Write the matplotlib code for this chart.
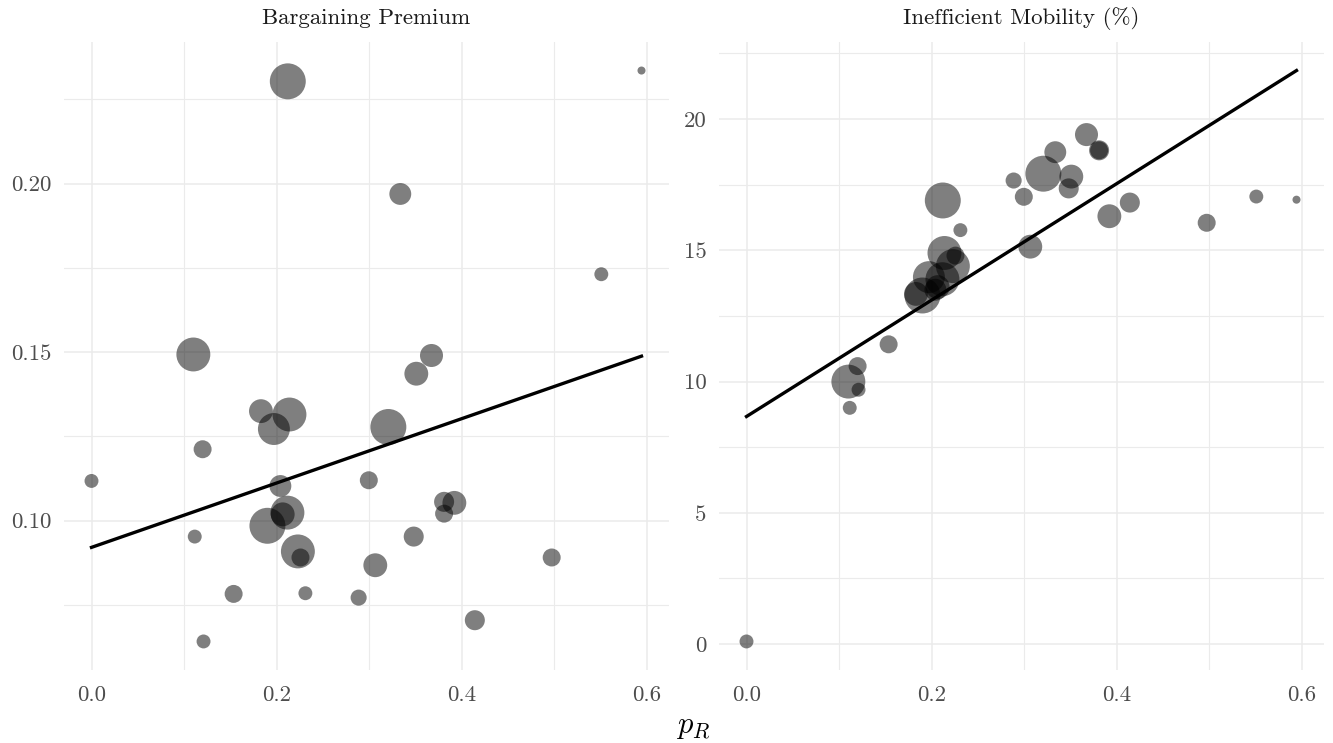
import numpy as np
import matplotlib
matplotlib.use('Agg')
import matplotlib.pyplot as plt
from matplotlib.ticker import MultipleLocator, FormatStrFormatter

plt.rcParams['font.family'] = ['cmr10', 'DejaVu Serif']
plt.rcParams['mathtext.fontset'] = 'cm'
plt.rcParams['axes.formatter.use_mathtext'] = True

# data
p_r = [0.000, 0.110, 0.1115, 0.120, 0.121, 0.1535, 0.183, 0.190, 0.197, 0.204,
       0.2065, 0.212, 0.2138, 0.2116, 0.2229, 0.2257, 0.231, 0.2885, 0.2995, 0.3065,
       0.3206, 0.3335, 0.348, 0.3508, 0.3672, 0.3808, 0.3808, 0.3919, 0.414, 0.497,
       0.5506, 0.594]
premium = [0.1118, 0.1493, 0.0953, 0.1212, 0.0642, 0.0783, 0.1325, 0.0985, 0.1272, 0.1103,
           0.1019, 0.2303, 0.1315, 0.1024, 0.0909, 0.0891, 0.0785, 0.0772, 0.1120, 0.0868,
           0.1278, 0.1969, 0.0953, 0.1436, 0.1490, 0.1056, 0.1021, 0.1053, 0.0705, 0.0891,
           0.1731, 0.2335]
mobility = [0.10, 10.00, 9.00, 10.59, 9.69, 11.42, 13.34, 13.28, 13.98, 13.50,
            13.60, 16.90, 14.90, 13.90, 14.40, 14.80, 15.77, 17.66, 17.04, 15.14,
            17.92, 18.74, 17.36, 17.81, 19.41, 18.81, 18.81, 16.30, 16.82, 16.05,
            17.05, 16.93]
weight = [15, 89, 15, 25, 15, 25, 44, 100, 79, 37,
          44, 100, 89, 89, 89, 25, 15, 20, 25, 44,
          100, 37, 31, 44, 41, 31, 25, 44, 31, 25,
          15, 5]

fit_x = [0.0, 0.594]
fit_premium = [0.0921, 0.1488]
fit_mobility = [8.67, 21.85]

titles = ['Bargaining Premium', 'Inefficient Mobility (%)']

fig = plt.figure(figsize=(13.33, 7.43), dpi=100)
W, H = 1333, 743
ax1 = fig.add_axes([64 / W, 1 - 670 / H, 605 / W, 628 / H])
ax2 = fig.add_axes([719 / W, 1 - 670 / H, 605 / W, 628 / H])

sizes = np.array(weight) * 6.7

panels = [(ax1, premium, fit_premium, 0.05, '%.2f'),
          (ax2, mobility, fit_mobility, 5, '%d')]
for (ax, yv, fy, ystep, fmt), title in zip(panels, titles):
    ax.scatter(p_r, yv, s=sizes, color='black', alpha=0.5, linewidths=0, zorder=3)
    ax.plot(fit_x, fy, color='black', lw=2.4, zorder=4)
    ax.margins(x=0.05, y=0.05)
    ax.xaxis.set_major_locator(MultipleLocator(0.2))
    ax.xaxis.set_minor_locator(MultipleLocator(0.1))
    ax.yaxis.set_major_locator(MultipleLocator(ystep))
    ax.yaxis.set_minor_locator(MultipleLocator(ystep / 2))
    ax.xaxis.set_major_formatter(FormatStrFormatter('%.1f'))
    ax.yaxis.set_major_formatter(FormatStrFormatter(fmt))
    ax.grid(which='major', color='#EBEBEB', lw=1.1)
    ax.grid(which='minor', color='#EBEBEB', lw=0.8)
    ax.set_axisbelow(True)
    for s in ax.spines.values():
        s.set_visible(False)
    ax.tick_params(which='both', length=0, labelsize=16.5, colors='#4D4D4D')
    ax.tick_params(axis='x', pad=11)
    ax.tick_params(axis='y', pad=9)
    pos = ax.get_position()
    fig.text(pos.x0 + pos.width / 2, 1 - 18 / H, title, ha='center', va='center',
             fontsize=16.5, color='#1A1A1A')

fig.text(693 / W, 1 - 727 / H, r'$p_R$', ha='center', va='center', fontsize=22)

fig.savefig('out.png', dpi=100)
